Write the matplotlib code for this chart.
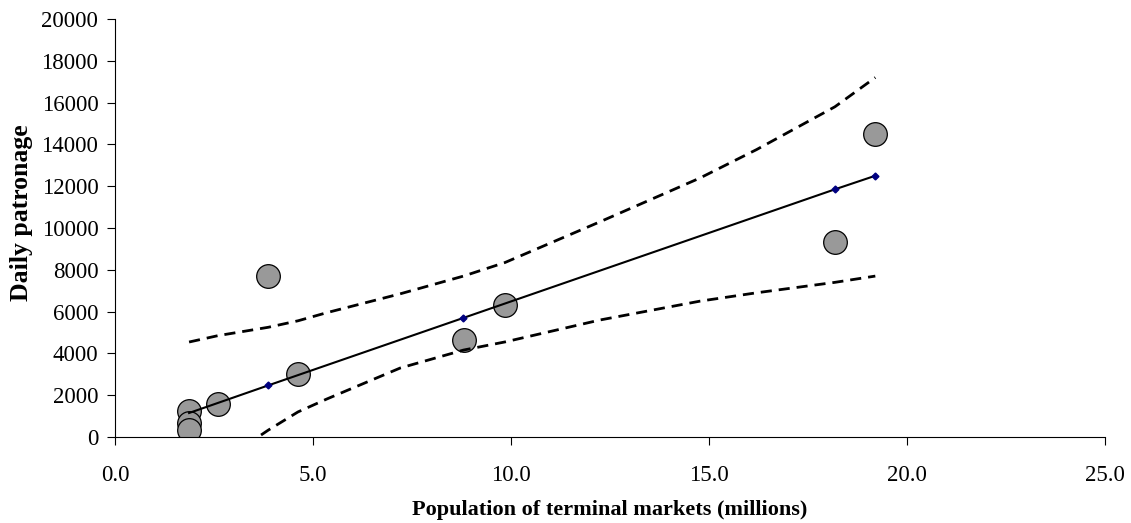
import matplotlib
matplotlib.use("Agg")
import matplotlib.pyplot as plt
from matplotlib.ticker import FormatStrFormatter, MultipleLocator

# observed markets: population (millions) vs daily patronage
pop = [1.87, 1.87, 1.87, 2.6, 3.87, 4.62, 8.81, 9.85, 18.18, 19.19]
patronage = [1250, 670, 350, 1580, 7700, 3010, 4640, 6320, 9330, 14500]

# regression line (predicted values)
fit_x = [1.87, 3.87, 8.8, 18.18, 19.2]
fit_y = [1150, 2470, 5700, 11850, 12500]

# confidence band
band_x = [1.87, 2.6, 3.87, 4.62, 5.35, 7.2, 8.8, 9.85, 12.25, 14.77, 16.2, 18.18, 19.2]
band_upper = [4545, 4850, 5250, 5560, 5950, 6850, 7700, 8350, 10300, 12390, 13750, 15800, 17200]
band_lower = [-2500, -1300, 330, 1200, 1820, 3300, 4160, 4550, 5600, 6500, 6900, 7400, 7700]

plt.rcParams["font.family"] = ["Liberation Serif", "DejaVu Serif"]

fig = plt.figure(figsize=(11.31, 5.23), dpi=100)
ax = fig.add_axes([0.1017, 0.1644, 0.8753, 0.7993])

ax.scatter(pop, patronage, s=290, color="#999999", edgecolors="black",
           linewidths=0.9, zorder=2)
ax.plot(fit_x, fit_y, color="black", lw=1.5, marker="D", ms=3.5,
        mfc="#000080", mec="#000080", markevery=[1, 2, 3, 4], zorder=3)
ax.plot(band_x, band_upper, color="black", lw=2, ls=(0, (4, 2.5)), zorder=3)
ax.plot(band_x, band_lower, color="black", lw=2, ls=(0, (4, 2.5)), zorder=3)

ax.set_xlim(0, 25)
ax.set_ylim(0, 20000)
ax.xaxis.set_major_locator(MultipleLocator(5))
ax.xaxis.set_major_formatter(FormatStrFormatter("%.1f"))
ax.yaxis.set_major_locator(MultipleLocator(2000))

for side in ("top", "right"):
    ax.spines[side].set_visible(False)
ax.tick_params(direction="out", length=6, width=0.8, labelsize=16.5)
ax.tick_params(axis="x", pad=14)
ax.tick_params(axis="y", pad=6)

# axis titles placed as in the original layout
fig.text(610 / 1131, 1 - 510 / 523, "Population of terminal markets (millions)",
         fontsize=16, fontweight="bold", ha="center", va="center")
fig.text(21.5 / 1131, 1 - 213 / 523, "Daily patronage", fontsize=18.5,
         fontweight="bold", rotation=90, ha="center", va="center")

fig.savefig("out.png", dpi=100)
